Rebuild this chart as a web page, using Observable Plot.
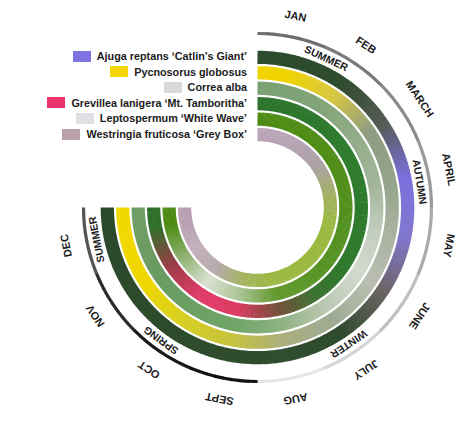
<!DOCTYPE html>
<html>
<head>
<meta charset="utf-8">
<script src="https://cdn.jsdelivr.net/npm/d3@7"></script>
<script src="https://cdn.jsdelivr.net/npm/@observablehq/plot@0.6"></script>
<style>
  html, body { margin: 0; padding: 0; background: #fff; }
  #wrap { position: relative; width: 474px; height: 424px; overflow: hidden; }
  #legend { position: absolute; left: 0; top: 0; width: 247px; height: 150px;
            font: bold 10.8px "Liberation Sans", Arial, sans-serif; color: #1c1c1c; }
  .row { position: absolute; right: 0; height: 12px; display: flex; align-items: center; white-space: nowrap; }
  .sw { width: 18px; height: 11px; margin-right: 6px; flex: none; }
</style>
</head>
<body>
<div id="wrap"><div id="chart"></div><div id="legend"></div></div>
<script>
// ---------- data ----------
const monthLabels = ["JAN","FEB","MARCH","APRIL","MAY","JUNE","JULY","AUG","SEPT","OCT","NOV","DEC"];
const seasonLabels = ["SUMMER","AUTUMN","WINTER","SPRING","SUMMER"];
const seasonAt = [1.1, 3.6, 6.5, 9.6, 11.5]; // position in months from January start

const plantNames = [
  "Ajuga reptans \u2018Catlin\u2019s Giant\u2019",
  "Pycnosorus globosus",
  "Correa alba",
  "Grevillea lanigera \u2018Mt. Tamboritha\u2019",
  "Leptospermum \u2018White Wave\u2019",
  "Westringia fruticosa \u2018Grey Box\u2019"
];
const legendSwatch = ["#7f73e2","#f4d600","#d9d9d9","#e8336c","#e0e0e4","#b9a2ab"];

// monthly colour of each plant (Jan..Dec)
const ajuga        = ["#2c4b2c","#2f4c2e","#565b55","#7b70dc","#8277cf","#6c6464","#2f4b2e","#2f4d2f","#2f4d2d","#2d4a2b","#2d4a2b","#2b482a"];
const pycnosorus   = ["#f0d400","#d8c840","#8d9c82","#93a38a","#a9b2a1","#b9beb1","#9eab93","#aaae7e","#c6c33c","#d8cf22","#efd700","#f1d800"];
const correa       = ["#7ba073","#83a47a","#93ad89","#a2b59a","#c2cdbd","#d2d9ce","#b9c8b1","#8eb182","#6fa467","#6b9f63","#699b61","#6e9d66"];
const grevillea    = ["#2d742d","#2e782e","#2e7c2e","#2d7b2d","#2d7a2d","#2e792d","#3a7430","#74503a","#dc3b62","#e03c69","#9a3c44","#2f6e2b"];
const leptospermum = ["#4e8c14","#4e8c14","#4f8d16","#508e18","#529020","#549222","#5a9628","#64982e","#a9c394","#d9e1d2","#8fb070","#4b8a11"];
const westringia   = ["#b9a3b6","#b4a3b1","#ab9fa2","#a2b063","#9bb843","#99b83d","#9ab83d","#9cb841","#a3b35f","#b6a8aa","#c2b0bb","#b79fb1"];
const arcShades    = ["#6e6e6e","#7a7a7a","#8a8a8a","#9b9b9b","#aaaaaa","#bfbfbf","#d6d6d6","#e6e6e6","#111111","#1a1a1a","#2b2b2b","#555555"];

const rings = [ajuga, pycnosorus, correa, grevillea, leptospermum, westringia];

// ---------- geometry helpers ----------
const monthDeg = 22.5;
const ang = t => (t * monthDeg) * Math.PI / 180;     // t in months, clockwise from top
const ringR = i => 150.2 - 15.45 * i;
const ringW = 13.2;
const arcR = 174, arcW = 3.2;
const monthLabelR = 195, seasonLabelR = 164;

function colorAt(colors, tm) {
  const u = tm - 0.5;
  if (u <= 0) return colors[0];
  if (u >= colors.length - 1) return colors[colors.length - 1];
  const i = Math.floor(u);
  return d3.interpolateRgb(colors[i], colors[i + 1])(u - i);
}

const step = 1 / 16, overlap = 0.012;
const ringSegs = [];
rings.forEach((colors, ri) => {
  for (let k = 0; k < 12 * 16; k++) {
    const t0 = k * step;
    const t1 = Math.min(12, t0 + step + overlap);
    ringSegs.push({ri, t0, t1, c: colorAt(colors, t0 + step / 2)});
  }
});
const arcSegs = [];
arcShades.forEach((c, m) => {
  for (let k = 0; k < 8; k++) {
    const t0 = m + k / 8;
    arcSegs.push({t0, t1: Math.min(12, t0 + 1 / 8 + overlap), c});
  }
});

const font = "Liberation Sans, Arial, Helvetica, sans-serif";

const chart = Plot.plot({
  width: 474,
  height: 424,
  margin: 0,
  x: {domain: [-257, 217], axis: null},
  y: {domain: [-217, 207], axis: null},
  color: {type: "identity"},
  marks: [
    Plot.link(ringSegs, {
      x1: d => ringR(d.ri) * Math.sin(ang(d.t0)),
      y1: d => ringR(d.ri) * Math.cos(ang(d.t0)),
      x2: d => ringR(d.ri) * Math.sin(ang(d.t1)),
      y2: d => ringR(d.ri) * Math.cos(ang(d.t1)),
      stroke: "c", strokeWidth: ringW, strokeLinecap: "butt"
    }),
    Plot.link(arcSegs, {
      x1: d => arcR * Math.sin(ang(d.t0)),
      y1: d => arcR * Math.cos(ang(d.t0)),
      x2: d => arcR * Math.sin(ang(d.t1)),
      y2: d => arcR * Math.cos(ang(d.t1)),
      stroke: "c", strokeWidth: arcW, strokeLinecap: "butt"
    }),
    Plot.text(monthLabels, {
      x: (d, i) => monthLabelR * Math.sin(ang(i + 0.5)),
      y: (d, i) => monthLabelR * Math.cos(ang(i + 0.5)),
      rotate: (d, i) => (i + 0.5) * monthDeg,
      text: d => d,
      fontSize: 11, fontWeight: "bold", fontFamily: font, fill: "#1c1c1c",
      textAnchor: "middle", lineAnchor: "middle"
    }),
    Plot.text(seasonLabels, {
      x: (d, i) => seasonLabelR * Math.sin(ang(seasonAt[i])),
      y: (d, i) => seasonLabelR * Math.cos(ang(seasonAt[i])),
      rotate: (d, i) => seasonAt[i] * monthDeg,
      text: d => d,
      fontSize: 10.5, fontWeight: "bold", fontFamily: font, fill: "#1c1c1c",
      textAnchor: "middle", lineAnchor: "middle"
    })
  ]
});
document.getElementById("chart").appendChild(chart);

// ---------- legend ----------
const legend = document.getElementById("legend");
plantNames.forEach((name, i) => {
  const row = document.createElement("div");
  row.className = "row";
  row.style.top = (50 + i * 15.6) + "px";
  const sw = document.createElement("span");
  sw.className = "sw";
  sw.style.background = legendSwatch[i];
  const tx = document.createElement("span");
  tx.textContent = name;
  row.appendChild(sw);
  row.appendChild(tx);
  legend.appendChild(row);
});
</script>
</body>
</html>
